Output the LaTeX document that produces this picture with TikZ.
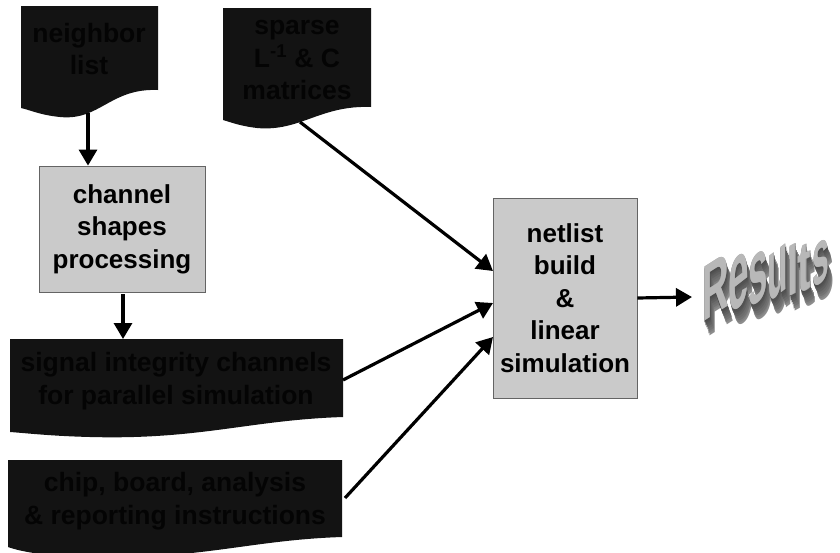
\documentclass[tikz,border=0pt]{standalone}
\usepackage{fontspec}
\setmainfont{Liberation Sans}
\usetikzlibrary{arrows.meta,calc}
\definecolor{docfill}{RGB}{19,19,19}
\definecolor{doctxt}{RGB}{4,4,4}
\definecolor{boxfill}{RGB}{202,202,202}
\definecolor{boxline}{RGB}{100,100,100}
\tikzset{
  doc/.style={fill=docfill,draw=none},
  doctext/.style={align=center,text=doctxt,font=\fontsize{26.5}{32.5}\selectfont\bfseries,inner sep=0pt},
  procbox/.style={draw=boxline,line width=0.8pt,fill=boxfill,align=center,font=\fontsize{26}{32.5}\selectfont\bfseries,inner sep=0pt},
  arr/.style={line width=3.2pt,-{Triangle[length=16pt,width=18pt]}},
  letter/.style={anchor=base west,inner sep=0pt,font=\fontsize{40}{40}\selectfont\bfseries,transform shape}
}
\begin{document}
\begin{tikzpicture}[x=1pt,y=-1pt]
\useasboundingbox (0,0) rectangle (840,552);
% document shapes
\fill[doc] (21,6) -- (158,6) -- (158,90) .. controls (110,88) and (100,121) .. (60,117) .. controls (40,115) and (30,110) .. (21,108) -- cycle;
\fill[doc] (223,8) -- (371,8) -- (371,107) .. controls (320,105) and (300,132) .. (257,128) .. controls (240,126) and (230,122) .. (223,120) -- cycle;
\fill[doc] (10,339) -- (343,339) -- (343,417) .. controls (250,420) and (200,440) .. (90,437) .. controls (50,436) and (25,433) .. (10,432) -- cycle;
\fill[doc] (8,460) -- (342,460) -- (342,537) .. controls (250,540) and (200,560) .. (90,557) .. controls (50,556) and (25,553) .. (8,547) -- cycle;
\node[doctext] (nl) at (89,49) {neighbor\\list};
\node[doctext] (sp) at (297,60) {sparse\\L\textsuperscript{-1} \& C\\matrices};
\node[doctext] (sig) at (176,381) {signal integrity channels\\for parallel simulation};
\node[doctext] (chip) at (175,501) {chip, board, analysis\\\& reporting instructions};
% process boxes
\node[procbox,minimum width=166pt,minimum height=126pt] (ch) at (122,229) {channel\\shapes\\processing};
\node[procbox,minimum width=144pt,minimum height=200pt] (net) at (565,298) {netlist\\build\\\&\\linear\\simulation};
% anchor coordinates
\coordinate (nlb) at (88,113);
\coordinate (spb) at (300,122);
\coordinate (sigtop) at (123,339);
\coordinate (sigr) at (343,380);
\coordinate (chipr) at (345,498);
\coordinate (in1) at (493,271);
\coordinate (in2) at (493,303);
\coordinate (in3) at (493,337);
\coordinate (res) at (692,297);
% connectors
\draw[arr] (nlb) -- (nlb |- ch.north);
\draw[arr] ($(ch.south)+(1,2)$) -- (sigtop);
\draw[arr] (spb) -- (in1);
\draw[arr] (sigr) -- (in2);
\draw[arr] (chipr) -- (in3);
\draw[arr] (net.east) -- (res);
% Results 3D text (per letter, with extrusion)
\foreach \i/\g in {15/45,13/50,11/55,9/58,7/62,5/65,3/68,1.5/70}{
  \foreach \c/\x/\sx/\sy in {R/702/0.92/1.96, e/728/0.92/2.4, s/748/0.87/2.26, u/767/0.84/2.16, l/787/0.95/1.72, t/797/1.0/1.76, s/812/0.75/1.92}{
    \node[letter,text=black!\g,xscale=\sx,yscale=\sy,yslant=0.3] at ($(\x,{323-0.3*(\x-702)})+(0.35*\i,\i)$) {\c};
  }
}
\foreach \c/\x/\sx/\sy/\nm in {R/702/0.92/1.96/r1, e/728/0.92/2.4/r2, s/748/0.87/2.26/r3, u/767/0.84/2.16/r4, l/787/0.95/1.72/r5, t/797/1.0/1.76/r6, s/812/0.75/1.92/r7}{
  \node[letter,text=black!38,xscale=\sx,yscale=\sy,yslant=0.3] at ($(\x,{323-0.3*(\x-702)})+(0.8,0)$) {\c};
  \node[letter,text=black!28,xscale=\sx,yscale=\sy,yslant=0.3] (\nm) at (\x,{323-0.3*(\x-702)}) {\c};
}
\end{tikzpicture}
\end{document}
